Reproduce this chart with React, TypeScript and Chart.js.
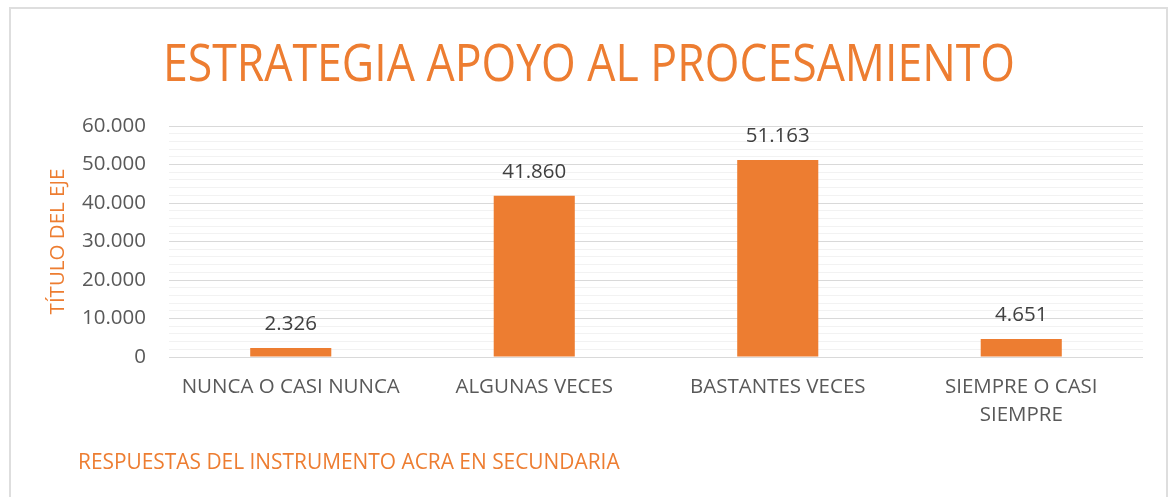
import React, { useEffect, useRef } from 'react';
import { Chart, registerables } from 'chart.js';

Chart.register(...registerables);

const TITLE = 'ESTRATEGIA APOYO AL PROCESAMIENTO';
const Y_TITLE = 'TÍTULO DEL EJE';
const X_TITLE = 'RESPUESTAS DEL INSTRUMENTO ACRA EN SECUNDARIA';
const categories: string[][] = [
  ['NUNCA O CASI NUNCA'],
  ['ALGUNAS VECES'],
  ['BASTANTES VECES'],
  ['SIEMPRE O CASI', 'SIEMPRE'],
];
const values: number[] = [2.326, 41.86, 51.163, 4.651];
const Y_MIN = 0;
const Y_MAX = 60;
const MINOR_STEP = 2;
const MAJOR_STEP = 10;

const ORANGE = '#ED7D31';
const TEXT_GRAY = '#595959';
const LABEL_GRAY = '#404040';
const MAJOR_GRID = '#D9D9D9';
const MINOR_GRID = '#F2F2F2';
const BASE_FONT = '"Open Sans", sans-serif';
const FONT_SIZE = 20.5;
const X_TITLE_SIZE = 20.9;
const TITLE_SIZE = 52;

const fmt = (v: number) => (v === 0 ? '0' : v.toFixed(3));

export default function App() {
  const ref = useRef<HTMLCanvasElement | null>(null);

  useEffect(() => {
    document.body.style.margin = '0';
    if (!ref.current) return;

    const frame = {
      id: 'frame',
      beforeDraw(chart: any) {
        const ctx = chart.ctx;
        ctx.save();
        ctx.fillStyle = '#ffffff';
        ctx.fillRect(0, 0, chart.width, chart.height);
        ctx.strokeStyle = '#DEDEDE';
        ctx.lineWidth = 2;
        ctx.strokeRect(10, 8, 1157, 520);
        ctx.restore();
      },
      afterDraw(chart: any) {
        const ctx = chart.ctx;
        ctx.save();
        // chart title, condensed to the reference's width
        ctx.fillStyle = ORANGE;
        ctx.font = `normal ${TITLE_SIZE}px ${BASE_FONT}`;
        ctx.textAlign = 'center';
        ctx.textBaseline = 'alphabetic';
        const w = ctx.measureText(TITLE).width;
        const sx = 852 / w;
        ctx.translate(589, 81);
        ctx.scale(sx, 1);
        ctx.fillText(TITLE, 0, 0);
        ctx.restore();

        ctx.save();
        ctx.fillStyle = ORANGE;
        ctx.font = `normal ${X_TITLE_SIZE}px ${BASE_FONT}`;
        ctx.textAlign = 'left';
        ctx.textBaseline = 'middle';
        ctx.fillText(X_TITLE, 78, 463);
        ctx.restore();
      },
    };

    const dataLabels = {
      id: 'dataLabels',
      afterDatasetsDraw(chart: any) {
        const ctx = chart.ctx;
        const meta = chart.getDatasetMeta(0);
        ctx.save();
        ctx.fillStyle = LABEL_GRAY;
        ctx.font = `normal ${FONT_SIZE}px ${BASE_FONT}`;
        ctx.textAlign = 'center';
        ctx.textBaseline = 'middle';
        meta.data.forEach((bar: any, i: number) => {
          ctx.fillText(fmt(values[i]), bar.x, bar.y - 24);
        });
        ctx.restore();
      },
    };

    const chart = new Chart(ref.current, {
      type: 'bar',
      data: {
        labels: categories,
        datasets: [
          {
            data: values,
            backgroundColor: ORANGE,
            borderWidth: 0,
            barPercentage: 0.333,
            categoryPercentage: 1,
          },
        ],
      },
      options: {
        animation: false,
        responsive: false,
        maintainAspectRatio: false,
        layout: { padding: { top: 126, left: 46, right: 32, bottom: 60 } },
        plugins: {
          legend: { display: false },
          tooltip: { enabled: false },
          title: { display: false },
        },
        scales: {
          x: {
            grid: { display: false, drawTicks: false, tickLength: 0 },
            border: { display: false },
            ticks: {
              color: TEXT_GRAY,
              padding: 16,
              maxRotation: 0,
              autoSkip: false,
              font: { family: BASE_FONT, size: FONT_SIZE, lineHeight: 1.366 },
            },
            afterFit(scale: any) {
              scale.height = 80;
            },
          },
          y: {
            min: Y_MIN,
            max: Y_MAX,
            border: { display: false },
            grid: {
              drawTicks: false,
              tickLength: 0,
              lineWidth: 1,
              color: (ctx: any) =>
                ctx.tick && ctx.tick.value % MAJOR_STEP === 0 ? MAJOR_GRID : MINOR_GRID,
            },
            ticks: {
              stepSize: MINOR_STEP,
              autoSkip: false,
              padding: 23,
              color: TEXT_GRAY,
              font: { family: BASE_FONT, size: FONT_SIZE },
              callback: (v: any) => (Number(v) % MAJOR_STEP === 0 ? fmt(Number(v)) : ''),
            },
            title: {
              display: true,
              text: Y_TITLE,
              color: ORANGE,
              font: { family: BASE_FONT, size: FONT_SIZE, lineHeight: 1.2 },
              padding: { top: 0, bottom: 0 },
            },
            afterFit(scale: any) {
              scale.width = 123;
            },
          },
        },
      },
      plugins: [frame, dataLabels],
    });

    return () => chart.destroy();
  }, []);

  return (
    <div style={{ position: 'relative', width: 1175, height: 497 }}>
      <canvas ref={ref} width={1175} height={497} style={{ display: 'block' }} />
    </div>
  );
}
